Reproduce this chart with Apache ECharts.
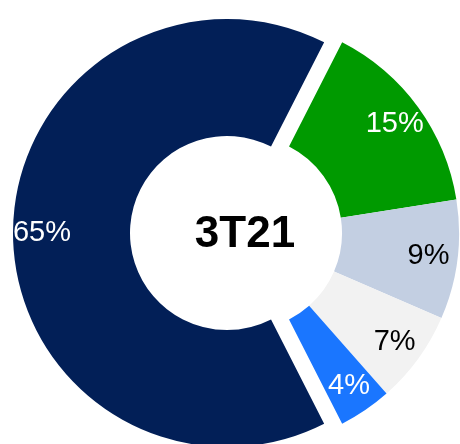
<!DOCTYPE html>
<html>
<head>
<meta charset="utf-8">
<script src="https://cdn.jsdelivr.net/npm/echarts@6/dist/echarts.min.js"></script>
<style>
  html, body { margin: 0; padding: 0; background: #fff; }
  #chart { width: 460px; height: 444px; }
</style>
</head>
<body>
<div id="chart"></div>
<script>
// share of each segment, in percent
var categories = ["A", "B", "C", "D", "E"];
var values = [15, 9, 7, 4, 65];
var colors = ["#009a00", "#c3cfe2", "#f2f2f2", "#1a76ff", "#021f57"];
var labelColors = ["#fff", "#000", "#000", "#fff", "#fff"];
var centerLabel = "3T21";

var chart = echarts.init(document.getElementById("chart"));

// the big slice is pulled out to the left
function buildData(transparent) {
  return categories.map(function (name, i) {
    return {
      name: name,
      value: values[i],
      selected: i === values.length - 1,
      itemStyle: { color: transparent ? "rgba(0,0,0,0)" : colors[i] },
      label: { color: labelColors[i] }
    };
  });
}

var common = {
  type: "pie",
  center: [245, 233],
  startAngle: 63,
  clockwise: true,
  selectedMode: "single",
  selectedOffset: 18,
  avoidLabelOverlap: false,
  animation: false,
  emphasis: { disabled: true },
  labelLine: { show: false }
};

chart.setOption({
  animation: false,
  graphic: [{
    type: "text",
    x: 245,
    y: 235,
    style: {
      text: centerLabel,
      font: "bold 44px 'Liberation Sans', Arial, sans-serif",
      fill: "#000",
      align: "center",
      verticalAlign: "middle"
    },
    z: 100
  }],
  series: [
    Object.assign({}, common, {
      name: "ring",
      radius: [97, 214],
      label: { show: false },
      data: buildData(false)
    }),
    // transparent copy, only to place the labels further out in the ring
    Object.assign({}, common, {
      name: "labels",
      radius: [97, 267],
      silent: true,
      z: 10,
      label: {
        show: true,
        position: "inside",
        formatter: "{c}%",
        fontSize: 29,
        fontFamily: "'Liberation Sans', Arial, sans-serif"
      },
      data: buildData(true)
    })
  ]
});
</script>
</body>
</html>
